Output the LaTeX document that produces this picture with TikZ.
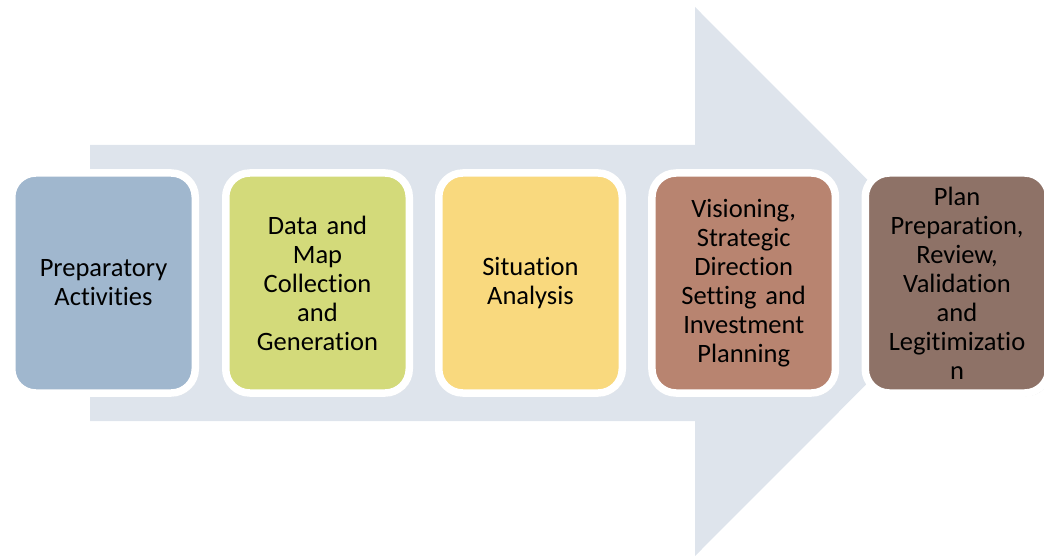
\documentclass[tikz,border=0pt]{standalone}
\usepackage{fontspec}
\setmainfont[Ligatures={NoCommon}]{Carlito}
\usetikzlibrary{shadows}
\definecolor{arrowc}{HTML}{DEE4EC}
\definecolor{c1}{HTML}{A0B7CE}
\definecolor{c2}{HTML}{D3DA7A}
\definecolor{c3}{HTML}{F9D97E}
\definecolor{c4}{HTML}{B88470}
\definecolor{c5}{HTML}{8E7267}
\tikzset{
  stepbox/.style={draw=white, line width=7.5pt, rounded corners=24pt,
    minimum width=183.5pt, minimum height=220pt, inner sep=0pt,
    text width=176pt, align=center,
    font=\fontsize{26.5}{29}\selectfont,
    drop shadow={shadow xshift=2pt, shadow yshift=-3pt, opacity=0.3, fill=black!60}},
  bigarrow/.style={fill=arrowc, draw=none}
}
\begin{document}
\begin{tikzpicture}[x=1pt, y=-1pt]
\useasboundingbox (0,0) rectangle (1044,556);
\fill[bigarrow] (90,145) -- (695,145) -- (695,7) -- (969,281.5) -- (695,556) -- (695,421) -- (90,421) -- cycle;
\node[stepbox, fill=c1] (b1) at (103.5,283) {Preparatory\\Activities};
\node[stepbox, fill=c2] (b2) at (317.5,283) {Data and\\Map\\Collection\\and\\Generation};
\node[stepbox, fill=c3] (b3) at (530.5,283) {Situation\\Analysis};
\node[stepbox, fill=c4] (b4) at (743.7,283) {Visioning,\\Strategic\\Direction\\Setting and\\Investment\\Planning};
\node[stepbox, fill=c5] (b5) at (957,283) {Plan\\Preparation,\\Review,\\Validation\\and\\Legitimizatio\\n};
\end{tikzpicture}
\end{document}
